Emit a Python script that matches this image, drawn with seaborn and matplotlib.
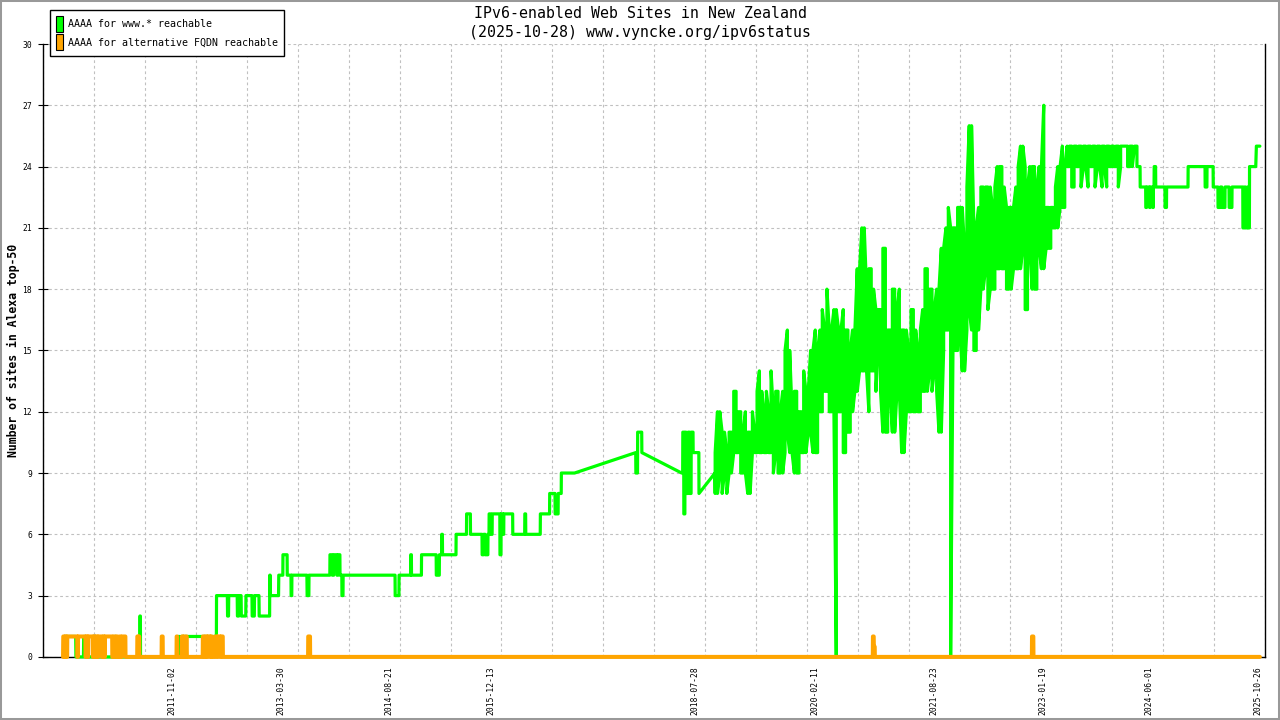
import numpy as np
import pandas as pd
import matplotlib
matplotlib.use("Agg")
import matplotlib.pyplot as plt
import matplotlib.dates as mdates
from matplotlib.patches import Patch, Rectangle
import seaborn as sns

sns.set_theme(style="white")
plt.rcParams['font.family'] = ['DejaVu Sans Mono', 'DejaVu Sans']
plt.rcParams['text.color'] = 'black'
plt.rcParams['xtick.color'] = 'black'
plt.rcParams['ytick.color'] = 'black'
plt.rcParams['xtick.labelcolor'] = 'black'
plt.rcParams['ytick.labelcolor'] = 'black'

GREEN = "#00ff00"
ORANGE = "#ffa500"

# ---------------------------------------------------------
# data (x in decimal years)
# ---------------------------------------------------------
# www.* reachable, early years (step changes)
green_early = [
    (2010.449, 0), (2010.452, 1), (2010.600, 1), (2010.603, 0), (2010.700, 0), (2010.703, 1),
    (2010.720, 1), (2010.723, 0), (2010.830, 0), (2010.833, 1), (2010.850, 1), (2010.853, 0),
    (2010.950, 0), (2010.953, 1), (2010.970, 1), (2010.973, 0), (2011.100, 0), (2011.103, 1),
    (2011.115, 1), (2011.118, 0), (2011.425, 0), (2011.427, 2), (2011.433, 2), (2011.435, 0),
    (2011.914, 0), (2011.916, 1), (2011.940, 1), (2011.943, 0), (2011.955, 0), (2011.958, 1),
    (2011.990, 1), (2011.993, 0), (2012.000, 0), (2012.003, 1), (2012.412, 1), (2012.414, 3),
    (2012.553, 3), (2012.556, 2), (2012.568, 2), (2012.571, 3), (2012.680, 3), (2012.683, 2),
    (2012.700, 2), (2012.703, 3), (2012.730, 3), (2012.733, 2), (2012.790, 2), (2012.793, 3),
    (2012.870, 3), (2012.873, 2), (2012.900, 2), (2012.903, 3), (2012.960, 3), (2012.963, 2),
    (2013.095, 2), (2013.097, 4), (2013.102, 4), (2013.104, 3), (2013.210, 3), (2013.213, 4),
    (2013.265, 4), (2013.267, 5), (2013.320, 5), (2013.322, 4), (2013.370, 4), (2013.372, 3),
    (2013.380, 3), (2013.382, 4), (2013.575, 4), (2013.578, 3), (2013.600, 3), (2013.602, 4),
    (2013.870, 4), (2013.872, 5), (2013.900, 5), (2013.902, 4), (2013.920, 4), (2013.922, 5),
    (2013.960, 5), (2013.962, 4), (2013.975, 4), (2013.977, 5), (2014.000, 5), (2014.002, 4),
    (2014.025, 4), (2014.027, 3), (2014.040, 3), (2014.042, 4), (2014.710, 4), (2014.712, 3),
    (2014.760, 3), (2014.762, 4), (2014.910, 4), (2014.912, 5), (2014.920, 5), (2014.922, 4),
    (2015.050, 4), (2015.052, 5), (2015.240, 5), (2015.242, 4), (2015.280, 4), (2015.282, 5),
    (2015.310, 5), (2015.312, 6), (2015.320, 6), (2015.322, 5), (2015.495, 5), (2015.497, 6),
    (2015.630, 6), (2015.632, 7), (2015.680, 7), (2015.682, 6), (2015.830, 6), (2015.832, 5),
    (2015.850, 5), (2015.852, 6), (2015.870, 6), (2015.872, 5), (2015.905, 5), (2015.907, 6),
    (2015.920, 6), (2015.922, 7), (2015.940, 7), (2015.942, 6), (2015.960, 6), (2015.962, 7),
    (2016.060, 7), (2016.062, 5), (2016.075, 5), (2016.077, 7), (2016.100, 7), (2016.102, 6),
    (2016.110, 6), (2016.112, 7), (2016.225, 7), (2016.227, 6), (2016.380, 6), (2016.382, 7),
    (2016.392, 7), (2016.394, 6), (2016.580, 6), (2016.582, 7), (2016.700, 7), (2016.702, 8),
    (2016.770, 8), (2016.772, 7), (2016.810, 7), (2016.812, 8), (2016.850, 8), (2016.852, 9),
    (2017.020, 9), (2017.807, 10), (2017.809, 9), (2017.830, 9), (2017.832, 11), (2017.884, 11),
    (2017.886, 10), (2018.399, 9), (2018.412, 9), (2018.414, 11), (2018.425, 11), (2018.427, 7),
    (2018.440, 7), (2018.442, 11), (2018.455, 11), (2018.457, 8), (2018.480, 8), (2018.482, 11),
    (2018.500, 11), (2018.502, 8), (2018.520, 8), (2018.522, 11), (2018.545, 11), (2018.547, 10),
    (2018.620, 10), (2018.622, 8), (2018.828, 9),
]

# www.* reachable, noisy years: low / high of the daily swings
noisy_years = [
    2018.83, 2018.86, 2018.89, 2018.92, 2018.95, 2018.98, 2019.01, 2019.04, 2019.07, 2019.10,
    2019.13, 2019.16, 2019.19, 2019.22, 2019.25, 2019.28, 2019.31, 2019.34, 2019.37, 2019.40,
    2019.43, 2019.46, 2019.49, 2019.52, 2019.55, 2019.58, 2019.61, 2019.64, 2019.67, 2019.70,
    2019.73, 2019.76, 2019.79, 2019.82, 2019.85, 2019.88, 2019.91, 2019.94, 2019.97, 2020.00,
    2020.03, 2020.06, 2020.09, 2020.12, 2020.15, 2020.18, 2020.21, 2020.24, 2020.27, 2020.30,
    2020.33, 2020.36, 2020.39, 2020.42, 2020.45, 2020.48, 2020.51, 2020.54, 2020.57, 2020.60,
    2020.63, 2020.66, 2020.69, 2020.72, 2020.75, 2020.78, 2020.81, 2020.84, 2020.87, 2020.90,
    2020.93, 2020.96, 2020.99, 2021.02, 2021.05, 2021.08, 2021.11, 2021.14, 2021.17, 2021.20,
    2021.23, 2021.26, 2021.29, 2021.32, 2021.35, 2021.38, 2021.41, 2021.44, 2021.47, 2021.50,
    2021.53, 2021.56, 2021.59, 2021.62, 2021.65, 2021.68, 2021.71, 2021.74, 2021.77, 2021.80,
    2021.83, 2021.86, 2021.89, 2021.92, 2021.95, 2021.98, 2022.01, 2022.04, 2022.07, 2022.10,
    2022.13, 2022.16, 2022.19, 2022.22, 2022.25, 2022.28, 2022.31, 2022.34, 2022.37, 2022.40,
    2022.43, 2022.46, 2022.49, 2022.52, 2022.55, 2022.58, 2022.61, 2022.64, 2022.67, 2022.70,
    2022.73, 2022.76, 2022.79, 2022.82, 2022.85, 2022.88, 2022.91, 2022.94, 2022.97, 2023.00,
    2023.03, 2023.06, 2023.09, 2023.12, 2023.15, 2023.18, 2023.21, 2023.24, 2023.27, 2023.30,
    2023.33, 2023.36, 2023.39, 2023.42, 2023.45, 2023.48, 2023.51, 2023.54, 2023.57, 2023.60,
    2023.63, 2023.66, 2023.69, 2023.72, 2023.75, 2023.78, 2023.81, 2023.84, 2023.87, 2023.90,
    2023.93, 2023.96, 2023.99, 2024.02, 2024.05, 2024.08, 2024.11, 2024.14, 2024.17, 2024.20,
    2024.23, 2024.26, 2024.29,
]
noisy_low = [
    8, 8, 9, 8, 9, 8, 9, 9, 10, 10,
    10, 9, 9, 9, 8, 8, 10, 10, 10, 10,
    10, 10, 10, 10, 10, 9, 10, 9, 9, 9,
    10, 11, 10, 10, 9, 9, 9, 10, 10, 10,
    11, 11, 10, 10, 10, 12, 12, 13, 13, 12,
    12, 12, 0, 12, 12, 10, 10, 11, 11, 12,
    13, 13, 14, 14, 14, 14, 12, 14, 14, 13,
    15, 13, 11, 11, 11, 13, 11, 11, 13, 13,
    10, 10, 12, 12, 12, 12, 12, 12, 12, 13,
    13, 13, 14, 13, 14, 13, 11, 11, 15, 16,
    16, 0, 15, 15, 15, 16, 14, 14, 16, 17,
    16, 15, 15, 16, 18, 18, 19, 17, 18, 18,
    18, 19, 19, 19, 19, 18, 18, 18, 19, 19,
    19, 19, 20, 17, 17, 20, 18, 18, 18, 20,
    19, 19, 20, 20, 20, 21, 21, 21, 22, 22,
    22, 24, 24, 23, 23, 24, 24, 23, 24, 24,
    23, 24, 24, 23, 24, 24, 23, 24, 23, 24,
    24, 24, 24, 23, 24, 25, 25, 24, 24, 24,
    25, 24, 24,
]
noisy_high = [
    10, 12, 12, 11, 11, 10, 11, 11, 13, 13,
    12, 12, 11, 12, 11, 11, 12, 11, 13, 14,
    13, 12, 13, 12, 14, 12, 13, 13, 12, 13,
    15, 16, 15, 12, 13, 13, 12, 12, 14, 13,
    13, 15, 15, 16, 15, 16, 17, 16, 18, 16,
    16, 17, 17, 16, 16, 17, 16, 16, 15, 16,
    16, 19, 19, 21, 21, 18, 19, 19, 18, 17,
    17, 17, 20, 20, 16, 16, 18, 18, 17, 18,
    16, 16, 16, 15, 17, 17, 16, 15, 16, 17,
    19, 19, 18, 18, 17, 18, 18, 20, 20, 21,
    22, 21, 21, 21, 22, 22, 22, 20, 23, 26,
    26, 21, 21, 22, 23, 23, 23, 23, 23, 22,
    23, 24, 24, 24, 23, 22, 22, 22, 22, 23,
    24, 25, 25, 24, 23, 24, 24, 24, 23, 24,
    24, 27, 22, 22, 22, 22, 23, 24, 24, 25,
    24, 25, 25, 25, 25, 25, 25, 25, 25, 25,
    25, 25, 25, 25, 25, 25, 25, 25, 25, 25,
    25, 25, 25, 25, 25, 25, 25, 25, 25, 25,
    25, 25, 24,
]

# www.* reachable, late years (step changes)
green_late = [
    (2024.300, 24), (2024.302, 23), (2024.372, 23), (2024.374, 22), (2024.384, 22), (2024.386, 23),
    (2024.420, 23), (2024.422, 22), (2024.430, 22), (2024.432, 23), (2024.462, 23), (2024.464, 22),
    (2024.470, 22), (2024.472, 23), (2024.480, 23), (2024.482, 24), (2024.500, 24), (2024.502, 23),
    (2024.620, 23), (2024.622, 22), (2024.640, 22), (2024.642, 23), (2024.917, 23), (2024.919, 24),
    (2025.134, 24), (2025.136, 23), (2025.158, 23), (2025.160, 24), (2025.238, 24), (2025.240, 23),
    (2025.300, 23), (2025.302, 22), (2025.330, 22), (2025.332, 23), (2025.350, 23), (2025.352, 22),
    (2025.390, 22), (2025.392, 23), (2025.443, 23), (2025.445, 22), (2025.480, 22), (2025.482, 23),
    (2025.620, 23), (2025.622, 21), (2025.640, 21), (2025.642, 23), (2025.655, 23), (2025.657, 21),
    (2025.680, 21), (2025.682, 23), (2025.690, 23), (2025.692, 21), (2025.705, 21), (2025.707, 24),
    (2025.787, 24), (2025.795, 25), (2025.840, 25),
]

# alternative FQDN reachable
orange_steps = [
    (2010.437, 0), (2010.440, 1), (2010.455, 1), (2010.457, 0), (2010.465, 0), (2010.467, 1),
    (2010.480, 1), (2010.482, 0), (2010.490, 0), (2010.492, 1), (2010.620, 1), (2010.622, 0),
    (2010.628, 0), (2010.630, 1), (2010.725, 1), (2010.727, 0), (2010.733, 0), (2010.735, 1),
    (2010.752, 1), (2010.754, 0), (2010.760, 0), (2010.762, 1), (2010.820, 1), (2010.822, 0),
    (2010.830, 0), (2010.832, 1), (2010.850, 1), (2010.852, 0), (2010.860, 0), (2010.862, 1),
    (2010.880, 1), (2010.882, 0), (2010.890, 0), (2010.892, 1), (2010.935, 1), (2010.937, 0),
    (2010.950, 0), (2010.952, 1), (2010.965, 1), (2010.967, 0), (2010.975, 0), (2010.977, 1),
    (2011.070, 1), (2011.072, 0), (2011.085, 0), (2011.087, 1), (2011.110, 1), (2011.112, 0),
    (2011.125, 0), (2011.127, 1), (2011.140, 1), (2011.142, 0), (2011.165, 0), (2011.167, 1),
    (2011.180, 1), (2011.182, 0), (2011.195, 0), (2011.197, 1), (2011.240, 1), (2011.242, 0),
    (2011.392, 0), (2011.394, 1), (2011.404, 1), (2011.406, 0), (2011.412, 0), (2011.414, 1),
    (2011.418, 1), (2011.420, 0), (2011.706, 0), (2011.708, 1), (2011.720, 1), (2011.722, 0),
    (2011.898, 0), (2011.900, 1), (2011.906, 1), (2011.908, 0), (2011.966, 0), (2011.968, 1),
    (2011.978, 1), (2011.980, 0), (2011.990, 0), (2011.992, 1), (2012.000, 1), (2012.002, 0),
    (2012.020, 0), (2012.022, 1), (2012.030, 1), (2012.032, 0), (2012.236, 0), (2012.238, 1),
    (2012.255, 1), (2012.257, 0), (2012.270, 0), (2012.272, 1), (2012.290, 1), (2012.292, 0),
    (2012.300, 0), (2012.302, 1), (2012.330, 1), (2012.332, 0), (2012.340, 0), (2012.342, 1),
    (2012.352, 1), (2012.354, 0), (2012.393, 0), (2012.395, 1), (2012.420, 1), (2012.422, 0),
    (2012.430, 0), (2012.432, 1), (2012.460, 1), (2012.462, 0), (2012.470, 0), (2012.472, 1),
    (2012.494, 1), (2012.496, 0), (2013.590, 0), (2013.592, 1), (2013.615, 1), (2013.617, 0),
    (2020.860, 0), (2020.862, 1), (2020.872, 1), (2020.874, 0.5), (2020.885, 0.5), (2020.887, 0),
    (2022.906, 0), (2022.908, 1), (2022.925, 1), (2022.927, 0), (2025.840, 0),
]

label_dates = ["2011-11-02", "2013-03-30", "2014-08-21", "2015-12-13", "2018-07-28",
               "2020-02-11", "2021-08-23", "2023-01-19", "2024-06-01", "2025-10-26"]
x_range = (2010.183, 2025.906)
y_ticks = list(range(0, 31, 3))


def to_dates(years):
    years = np.asarray(years, dtype=float)
    whole = np.floor(years).astype(int)
    starts = pd.to_datetime([f"{y}-01-01" for y in whole])
    return starts + pd.to_timedelta((years - whole) * 365.25, unit="D")


# noisy part: alternate low/high so the swings fill the band
noisy_pts = []
for i, (yr, lo, hi) in enumerate(zip(noisy_years, noisy_low, noisy_high)):
    if i % 2 == 0:
        noisy_pts += [(yr, lo), (yr, hi)]
    else:
        noisy_pts += [(yr, hi), (yr, lo)]

green_all = green_early + noisy_pts + green_late
df_green = pd.DataFrame(green_all, columns=["year", "sites"])
df_green["date"] = to_dates(df_green["year"])
df_orange = pd.DataFrame(orange_steps, columns=["year", "sites"])
df_orange["date"] = to_dates(df_orange["year"])

# ---------------------------------------------------------
# figure
# ---------------------------------------------------------
fig = plt.figure(figsize=(12.8, 7.2), dpi=100)
ax = fig.add_axes([43.3 / 1280, 1 - 656.9 / 720, (1265 - 43.3) / 1280, (656.9 - 44) / 720])

sns.lineplot(data=df_green, x="date", y="sites", ax=ax, estimator=None, sort=False,
             errorbar=None, color=GREEN, linewidth=2.3, clip_on=False, zorder=3)
sns.lineplot(data=df_orange, x="date", y="sites", ax=ax, estimator=None, sort=False,
             errorbar=None, color=ORANGE, linewidth=2.9, clip_on=False, zorder=4)

xlo, xhi = mdates.date2num(to_dates(list(x_range)))
ax.set_xlim(xlo, xhi)
ax.set_ylim(0, 30)

ax.set_xticks(np.linspace(xlo, xhi, 25))
ax.set_xticklabels([])
ax.set_xticks(mdates.date2num(pd.to_datetime(label_dates)), labels=label_dates, minor=True)
ax.tick_params(axis="x", which="major", direction="inout", length=7.2, width=0.8, color="black")
ax.tick_params(axis="x", which="minor", length=0, pad=7.0, labelrotation=90, labelsize=5.8,
               labelcolor="black")
ax.set_yticks(y_ticks)
ax.tick_params(axis="y", which="major", direction="inout", length=7.2, width=0.8,
               color="black", pad=4.6, labelsize=5.8, left=True, right=False, labelcolor="black")

ax.grid(True, which="major", color="#c0c0c0", linestyle=(0, (2.5, 2.5)), linewidth=0.8)
ax.set_axisbelow(True)

ax.set_xlabel("")
ax.set_ylabel("")
for side in ["left", "right", "bottom"]:
    ax.spines[side].set_visible(True)
    ax.spines[side].set_color("black")
    ax.spines[side].set_linewidth(1.0)
ax.spines["top"].set_visible(False)

fig.text(0.5, 1 - 13 / 720, "IPv6-enabled Web Sites in New Zealand",
         ha="center", va="center", fontsize=10.7, color="black")
fig.text(0.5, 1 - 32 / 720, "(2025-10-28) www.vyncke.org/ipv6status",
         ha="center", va="center", fontsize=10.7, color="black")
fig.text(13 / 1280, 1 - 350 / 720, "Number of sites in Alexa top-50", rotation=90,
         ha="center", va="center", fontsize=8.3, fontweight="bold", color="black")

handles = [Patch(facecolor=GREEN, edgecolor="black", linewidth=0.8),
           Patch(facecolor=ORANGE, edgecolor="black", linewidth=0.8)]
leg = fig.legend(handles, ["AAAA for www.* reachable", "AAAA for alternative FQDN reachable"],
                 loc="upper left", bbox_to_anchor=(50 / 1280, 1 - 10 / 720),
                 fontsize=7.2, handlelength=0.7, handleheight=2.1, handletextpad=0.45,
                 labelspacing=0.2, borderpad=0.6, borderaxespad=0, fancybox=False,
                 framealpha=1, edgecolor="black")
leg.get_frame().set_linewidth(1.0)
for txt in leg.get_texts():
    txt.set_color("black")

fig.patches.append(Rectangle((0, 0), 1, 1, transform=fig.transFigure, fill=False,
                             edgecolor="#999999", linewidth=2.9, zorder=10))

plt.savefig("out.png", dpi=100)
